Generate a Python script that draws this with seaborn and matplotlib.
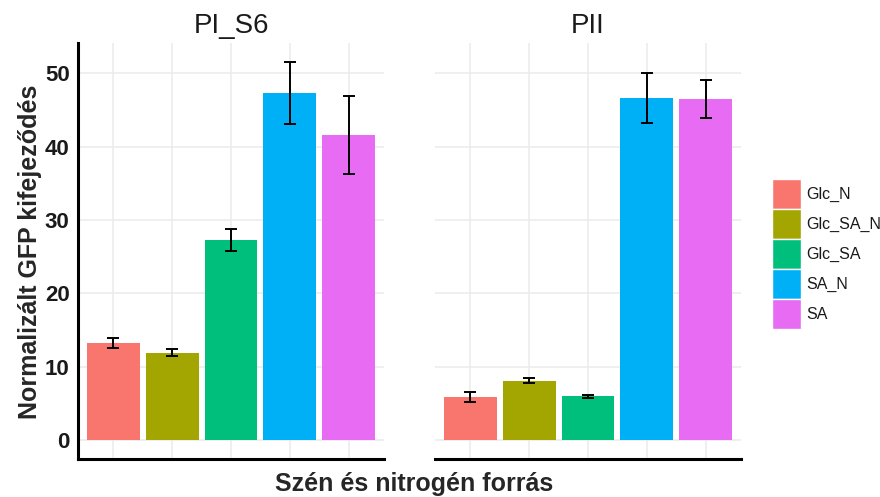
import matplotlib
matplotlib.use("Agg")
import matplotlib.pyplot as plt
import seaborn as sns
import numpy as np
import pandas as pd
from matplotlib.patches import Patch

categories = ["Glc_N", "Glc_SA_N", "Glc_SA", "SA_N", "SA"]
panels = ["PI_S6", "PII"]
pi_s6_values = [13.2, 11.9, 27.2, 47.3, 41.6]
pi_s6_err = [0.7, 0.5, 1.5, 4.2, 5.3]
pii_values = [5.9, 8.1, 5.95, 46.6, 46.5]
pii_err = [0.7, 0.3, 0.2, 3.4, 2.55]
colors = ["#F8766D", "#A3A500", "#00BF7D", "#00B0F6", "#E76BF3"]
y_ticks = [0, 10, 20, 30, 40, 50]

df = pd.DataFrame({
    "panel": np.repeat(panels, len(categories)),
    "cond": categories * 2,
    "value": pi_s6_values + pii_values,
    "err": pi_s6_err + pii_err,
})

sns.set_theme(style="white")
plt.rcParams["font.family"] = ["Liberation Sans", "DejaVu Sans"]

W, H = 880, 497
fig = plt.figure(figsize=(W / 100, H / 100), dpi=100)
palette = dict(zip(categories, colors))

def frac(x0, y0, x1, y1):
    return [x0 / W, 1 - y1 / H, (x1 - x0) / W, (y1 - y0) / H]

axes = [fig.add_axes(frac(78, 43, 384, 459)), fig.add_axes(frac(435, 43, 741, 459))]

for ax, pname in zip(axes, panels):
    sub = df[df["panel"] == pname]
    sns.barplot(data=sub, x="cond", y="value", hue="cond", order=categories,
                hue_order=categories, palette=palette, width=0.9, errorbar=None,
                saturation=1, legend=False, ax=ax, edgecolor="none", zorder=2)
    xs = np.arange(len(categories))
    ax.errorbar(xs, sub["value"].values, yerr=sub["err"].values, fmt="none",
                ecolor="black", elinewidth=1.4, capsize=4.5, capthick=1.4, zorder=3)
    ax.set_xlim(-0.6, len(categories) - 0.4)
    ax.set_ylim(-2.57, 54.1)
    ax.set_yticks(y_ticks)
    ax.set_xticks(xs)
    ax.set_xticklabels([])
    ax.set_xlabel("")
    ax.set_ylabel("")
    ax.grid(True, color="#EBEBEB", linewidth=1.1, zorder=0)
    ax.set_axisbelow(True)
    for s in ["top", "right"]:
        ax.spines[s].set_visible(False)
    ax.spines["bottom"].set_linewidth(2.2)
    ax.spines["bottom"].set_color("black")
    ax.tick_params(axis="x", length=0)
    ax.set_title(pname, fontsize=20, pad=7, color="#1a1a1a")

axes[0].spines["left"].set_linewidth(2.2)
axes[0].spines["left"].set_color("black")
axes[0].tick_params(axis="y", length=4, width=1.2, color="black", labelsize=16, pad=2,
                    labelcolor="#1a1a1a")
for lab in axes[0].get_yticklabels():
    lab.set_fontweight("bold")
axes[1].spines["left"].set_visible(False)
axes[1].tick_params(axis="y", length=0, labelleft=False)

fig.text(30 / W, 1 - 252 / H, "Normalizált GFP kifejeződés", rotation=90,
         ha="center", va="center", fontsize=18, fontweight="bold")
fig.text(414 / W, 1 - 484 / H, "Szén és nitrogén forrás", ha="center", va="center",
         fontsize=18, fontweight="bold")

handles = [Patch(facecolor=c, edgecolor="white", linewidth=1.0) for c in colors]
leg = fig.legend(handles, categories, loc="upper left", bbox_to_anchor=(772 / W, 1 - 179 / H),
                 frameon=False, fontsize=11.5, handlelength=1.82, handleheight=2.51,
                 handletextpad=0.35, labelspacing=0.0, borderpad=0, borderaxespad=0)
for t in leg.get_texts():
    t.set_color("#1a1a1a")

fig.savefig("out.png", dpi=100)
